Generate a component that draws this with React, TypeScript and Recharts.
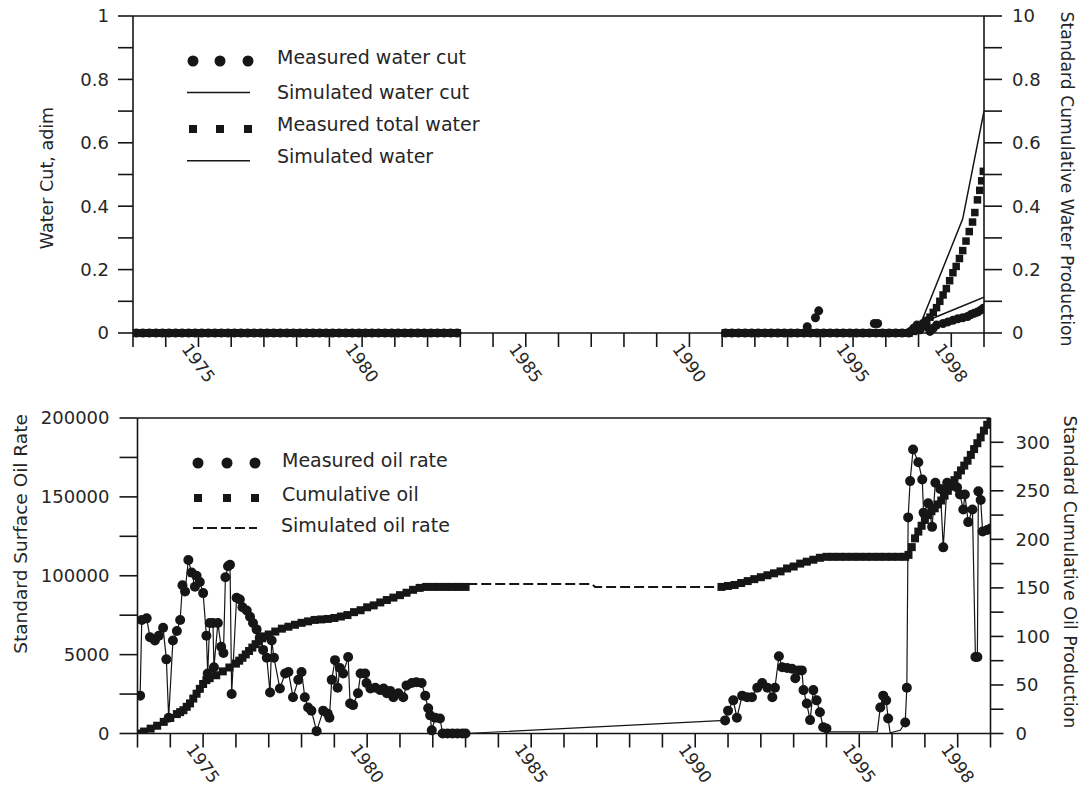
import { ComposedChart, Line, XAxis, YAxis, ReferenceLine } from 'recharts'

// x axis: years
const yearTicks = [1973, 1974, 1975, 1976, 1977, 1978, 1979, 1980, 1981, 1982, 1983, 1984, 1985, 1986, 1987, 1988, 1989, 1990, 1991, 1992, 1993, 1994, 1995, 1996, 1997, 1998, 1999]
const yearLabels = [1975, 1980, 1985, 1990, 1995, 1998]

// top panel axes
const wcTicks = [0, 0.1, 0.2, 0.3, 0.4, 0.5, 0.6, 0.7, 0.8, 0.9, 1]
const wcTickLabels = ['0', '', '0.2', '', '0.4', '', '0.6', '', '0.8', '', '1']
const cumWaterTickLabels = ['0', '', '0.2', '', '0.4', '', '0.6', '', '0.8', '', '10']

// bottom panel axes
const oilTicks = [0, 25000, 50000, 75000, 100000, 125000, 150000, 175000, 200000]
const oilTickLabels = ['0', '', '5000', '', '100000', '', '150000', '', '200000']
const cumOilTicks = [0, 25, 50, 75, 100, 125, 150, 175, 200, 225, 250, 275, 300]
const cumOilTickLabels = ['0', '', '50', '', '100', '', '150', '', '200', '', '250', '', '300']

// top panel: sample dates where both measured water series read 0
const waterZeroYears = [
  1973.1, 1973.3, 1973.5, 1973.7, 1973.9, 1974.1, 1974.3, 1974.5, 1974.7, 1974.9,
  1975.1, 1975.3, 1975.5, 1975.7, 1975.9, 1976.1, 1976.3, 1976.5, 1976.7, 1976.9,
  1977.1, 1977.3, 1977.5, 1977.7, 1977.9, 1978.1, 1978.3, 1978.5, 1978.7, 1978.9,
  1979.1, 1979.3, 1979.5, 1979.7, 1979.9, 1980.1, 1980.3, 1980.5, 1980.7, 1980.9,
  1981.1, 1981.3, 1981.5, 1981.7, 1981.9, 1982.1, 1982.3, 1982.5, 1982.7, 1982.9,
  1991.1, 1991.3, 1991.5, 1991.7, 1991.9, 1992.1, 1992.3, 1992.5, 1992.7, 1992.9,
  1993.1, 1993.3, 1993.5, 1993.7, 1993.9, 1994.1, 1994.3, 1994.5, 1994.7, 1994.9,
  1995.1, 1995.3, 1995.5, 1995.7, 1995.9, 1996.1, 1996.3, 1996.5, 1996.7,
]
// top panel non-zero readings [year, value]
const measuredWaterCutRise: [number, number][] = [
  [1993.6, 0.02], [1993.85, 0.048], [1993.95, 0.07],
  [1995.65, 0.03], [1995.75, 0.03],
  [1996.75, 0.005], [1996.85, 0.015], [1996.95, 0.025], [1997.05, 0.01], [1997.15, 0.03],
  [1997.25, 0.02], [1997.35, 0.005], [1997.45, 0.015], [1997.55, 0.025],
  [1997.75, 0.03], [1997.9, 0.035], [1998.05, 0.04], [1998.2, 0.045], [1998.35, 0.048],
  [1998.5, 0.052], [1998.6, 0.058], [1998.7, 0.062], [1998.8, 0.066], [1998.9, 0.072], [1998.98, 0.078],
]
const simulatedWaterCut: [number, number][] = [[1996.95, 0], [1997.4, 0.045], [1999.0, 0.113]]
const measuredTotalWaterRise: [number, number][] = [
  [1996.85, 0.005], [1996.95, 0.01], [1997.05, 0.02], [1997.15, 0.03], [1997.25, 0.04],
  [1997.35, 0.05], [1997.45, 0.065], [1997.55, 0.08], [1997.65, 0.1], [1997.75, 0.12],
  [1997.85, 0.14], [1997.95, 0.165], [1998.05, 0.19], [1998.15, 0.21], [1998.25, 0.235],
  [1998.35, 0.26], [1998.45, 0.29], [1998.55, 0.32], [1998.65, 0.35], [1998.72, 0.38],
  [1998.8, 0.42], [1998.87, 0.45], [1998.93, 0.48], [1998.98, 0.51],
]
const simulatedWater: [number, number][] = [[1996.95, 0], [1998.35, 0.36], [1999.0, 0.7]]

// bottom panel series
const measuredOilRate: [number, number][] = [
  [1973.08, 24000], [1973.13, 72000], [1973.28, 73000], [1973.38, 61000], [1973.53, 59000],
  [1973.65, 62000], [1973.78, 67000], [1973.88, 47000], [1973.95, 10000], [1974.08, 59000],
  [1974.2, 65000], [1974.3, 72000], [1974.37, 94000], [1974.45, 90000], [1974.55, 110000],
  [1974.65, 102000], [1974.75, 93000], [1974.8, 100000], [1974.9, 96000], [1975.0, 89000],
  [1975.1, 62000], [1975.14, 38000], [1975.2, 70000], [1975.3, 70000], [1975.33, 42000],
  [1975.45, 70000], [1975.55, 55000], [1975.62, 51000], [1975.68, 99000], [1975.76, 106000],
  [1975.82, 107000], [1975.87, 25000], [1976.02, 86000], [1976.12, 85000], [1976.2, 80000],
  [1976.33, 78000], [1976.43, 74000], [1976.52, 70000], [1976.63, 66000], [1976.73, 61000],
  [1976.83, 53000], [1976.94, 48000], [1977.04, 26000], [1977.09, 59000], [1977.16, 48000],
  [1977.34, 28500], [1977.5, 38000], [1977.6, 39000], [1977.74, 23000], [1977.9, 34000],
  [1978.0, 39000], [1978.1, 23000], [1978.2, 16500], [1978.3, 14500], [1978.46, 1500],
  [1978.66, 14500], [1978.8, 12500], [1978.85, 10000], [1978.92, 34000], [1979.02, 46500],
  [1979.1, 29000], [1979.17, 41500], [1979.27, 38000], [1979.42, 48500], [1979.48, 19000],
  [1979.57, 18000], [1979.72, 25500], [1979.8, 38000], [1979.94, 38000], [1979.98, 32000],
  [1980.1, 28500], [1980.25, 29000], [1980.4, 27500], [1980.5, 28500], [1980.6, 25500],
  [1980.7, 27000], [1980.8, 23000], [1980.95, 25500], [1981.1, 23000], [1981.2, 30500],
  [1981.36, 32000], [1981.5, 32500], [1981.66, 32000], [1981.77, 24000], [1981.86, 16000],
  [1981.92, 11500], [1981.97, 2000], [1982.07, 10000], [1982.22, 9500], [1982.3, 0],
  [1982.45, 0], [1982.6, 0], [1982.75, 0], [1982.9, 0], [1983.0, 0],
  [1990.91, 8300], [1991.0, 14500], [1991.16, 21000], [1991.27, 10000], [1991.43, 24000],
  [1991.58, 23000], [1991.73, 23000], [1991.89, 29000], [1992.04, 32000], [1992.2, 29000],
  [1992.35, 23000], [1992.43, 29000], [1992.55, 49000], [1992.65, 42000], [1992.8, 41500],
  [1992.95, 41000], [1993.05, 35000], [1993.15, 40000], [1993.25, 40000], [1993.3, 27500],
  [1993.4, 19000], [1993.5, 8500], [1993.6, 27500], [1993.7, 21000], [1993.8, 13500],
  [1993.9, 4000], [1994.0, 3200],
  [1995.64, 16500], [1995.73, 24000], [1995.82, 21000], [1995.88, 9500],
  [1996.4, 7000], [1996.45, 29000], [1996.49, 137000], [1996.55, 160000], [1996.64, 180000],
  [1996.8, 172000], [1996.92, 161000], [1996.96, 140000], [1997.1, 146000], [1997.22, 131000],
  [1997.32, 159000], [1997.47, 155000], [1997.56, 118000], [1997.68, 159000], [1997.83, 157000],
  [1997.98, 156000], [1998.07, 151500], [1998.17, 142000], [1998.22, 151500], [1998.32, 134000],
  [1998.45, 142000], [1998.54, 48500], [1998.6, 48500], [1998.63, 153500], [1998.7, 148000],
  [1998.76, 128000], [1998.9, 129000], [1999.0, 130000],
]
// vertices of the rate curve that carry no marker
const oilRateUnmarked: [number, number][] = [[1994.05, 1000], [1995.55, 1000], [1995.94, 500], [1996.25, 2000]]

const cumulativeOil: [number, number][] = [
  [1973.0, 0], [1973.2, 2], [1973.4, 5], [1973.6, 8], [1973.8, 12], [1974.0, 16], [1974.2, 20],
  [1974.3, 22], [1974.4, 24], [1974.5, 27.5], [1974.6, 31], [1974.7, 36], [1974.8, 41], [1974.9, 46],
  [1975.0, 51], [1975.1, 55], [1975.2, 57], [1975.4, 60], [1975.6, 64],
  [1975.8, 68], [1976.0, 72], [1976.1, 75], [1976.2, 78], [1976.3, 81.5], [1976.4, 85], [1976.5, 88.5],
  [1976.6, 92], [1976.7, 95], [1976.8, 98], [1976.9, 100], [1977.0, 102],
  [1977.2, 105], [1977.4, 108], [1977.6, 110], [1977.8, 112], [1978.0, 114], [1978.2, 115.5],
  [1978.4, 117], [1978.6, 117.5], [1978.8, 118], [1979.0, 119], [1979.2, 120.5], [1979.4, 122],
  [1979.6, 125], [1979.8, 127], [1980.0, 130], [1980.2, 132], [1980.4, 135], [1980.6, 137.5],
  [1980.8, 140], [1981.0, 142.5], [1981.2, 145], [1981.4, 148], [1981.6, 150], [1981.8, 151],
  [1982.0, 151], [1982.2, 151], [1982.4, 151], [1982.6, 151], [1982.8, 151], [1983.0, 151],
  [1990.8, 151], [1991.0, 152], [1991.2, 153], [1991.4, 155], [1991.6, 157], [1991.8, 159],
  [1992.0, 161], [1992.2, 163], [1992.4, 165], [1992.6, 167], [1992.8, 170], [1993.0, 172],
  [1993.2, 175], [1993.4, 177], [1993.6, 179], [1993.8, 181], [1994.0, 182], [1994.2, 182],
  [1994.4, 182], [1994.6, 182], [1994.8, 182], [1995.0, 182], [1995.2, 182], [1995.4, 182],
  [1995.6, 182], [1995.8, 182], [1996.0, 182], [1996.2, 182], [1996.4, 182],
  [1996.5, 184], [1996.6, 192], [1996.7, 201], [1996.8, 208], [1996.9, 214], [1997.0, 220],
  [1997.1, 225], [1997.2, 229], [1997.3, 232], [1997.4, 236], [1997.5, 240], [1997.6, 245],
  [1997.7, 250], [1997.8, 256], [1997.9, 261], [1998.0, 266], [1998.1, 271], [1998.2, 276],
  [1998.3, 281], [1998.4, 287], [1998.5, 293], [1998.6, 299], [1998.7, 305], [1998.8, 312],
  [1998.9, 318], [1999.0, 323],
]
const simulatedOilRate: [number, number][] = [[1983.05, 154], [1986.85, 154], [1986.95, 151], [1990.85, 151]]

const FONT = 'DejaVu Sans'
const INK = '#161616'
const TEXT = '#262626'

const rows = (pts: [number, number][]) => pts.map(([t, v]) => ({ t, v }))
const zeroRows = waterZeroYears.map((t) => ({ t, v: 0 }))

const circleDot = (r: number) => (p: any) => (
  <circle key={`c${p.index}`} cx={p.cx} cy={p.cy} r={r} fill={INK} />
)
const squareDot = (s: number) => (p: any) => (
  <rect key={`s${p.index}`} x={p.cx - s / 2} y={p.cy - s / 2} width={s} height={s} fill={INK} />
)

function YearTick(props: any) {
  const { x, y, payload } = props
  if (!yearLabels.includes(payload.value)) return <g />
  return (
    <text
      x={0}
      y={0}
      transform={`translate(${x},${y + 14}) rotate(54)`}
      textAnchor="middle"
      dominantBaseline="central"
      fontSize={17}
      fontFamily={FONT}
      fill={TEXT}
    >
      {payload.value}
    </text>
  )
}

const axisStyle = { stroke: INK, strokeWidth: 1.6 }
const tickFont = { fill: TEXT, fontSize: 18, fontFamily: FONT }

function xAxis() {
  return (
    <XAxis
      type="number"
      dataKey="t"
      domain={[1973, 1999]}
      allowDataOverflow
      ticks={yearTicks}
      interval={0}
      height={45}
      tickSize={14}
      axisLine={axisStyle}
      tickLine={axisStyle}
      tick={<YearTick />}
    />
  )
}

function TopChart() {
  return (
    <ComposedChart width={1086} height={395} margin={{ top: 16, right: 42, bottom: 17, left: 73 }}>
      {xAxis()}
      <YAxis
        yAxisId="left"
        type="number"
        domain={[0, 1]}
        ticks={wcTicks}
        interval={0}
        width={60}
        tickSize={15}
        tickMargin={9}
        axisLine={axisStyle}
        tickLine={axisStyle}
        tick={tickFont}
        tickFormatter={(_v: number, i: number) => wcTickLabels[i]}
      />
      <YAxis
        yAxisId="right"
        orientation="right"
        type="number"
        domain={[0, 1]}
        ticks={wcTicks}
        interval={0}
        width={60}
        tickSize={18}
        tickMargin={10}
        axisLine={axisStyle}
        tickLine={axisStyle}
        tick={tickFont}
        tickFormatter={(_v: number, i: number) => cumWaterTickLabels[i]}
      />
      <ReferenceLine yAxisId="left" y={1} stroke={INK} strokeWidth={1.6} />
      <Line yAxisId="left" data={[...zeroRows, ...rows(measuredWaterCutRise)]} dataKey="v" stroke="none" dot={circleDot(4.5)} activeDot={false} isAnimationActive={false} />
      <Line yAxisId="right" data={zeroRows} dataKey="v" stroke="none" dot={squareDot(8)} activeDot={false} isAnimationActive={false} />
      <Line yAxisId="left" data={rows(simulatedWaterCut)} dataKey="v" stroke={INK} strokeWidth={1.5} dot={false} activeDot={false} isAnimationActive={false} />
      <Line yAxisId="right" data={rows(measuredTotalWaterRise)} dataKey="v" stroke="none" dot={squareDot(7.5)} activeDot={false} isAnimationActive={false} />
      <Line yAxisId="right" data={rows(simulatedWater)} dataKey="v" stroke={INK} strokeWidth={1.5} dot={false} activeDot={false} isAnimationActive={false} />
    </ComposedChart>
  )
}

function BottomChart() {
  const rateLine = [...measuredOilRate, ...oilRateUnmarked].sort((a, b) => a[0] - b[0])
  return (
    <ComposedChart width={1086} height={393} margin={{ top: 23, right: 35.5, bottom: 9.5, left: 77.5 }}>
      {xAxis()}
      <YAxis
        yAxisId="left"
        type="number"
        domain={[0, 200000]}
        ticks={oilTicks}
        interval={0}
        width={60}
        tickSize={18}
        tickMargin={10}
        axisLine={axisStyle}
        tickLine={axisStyle}
        tick={tickFont}
        tickFormatter={(_v: number, i: number) => oilTickLabels[i]}
      />
      <YAxis
        yAxisId="right"
        orientation="right"
        type="number"
        domain={[0, 325]}
        allowDataOverflow
        ticks={cumOilTicks}
        interval={0}
        width={60}
        tickSize={13}
        tickMargin={12}
        axisLine={axisStyle}
        tickLine={axisStyle}
        tick={tickFont}
        tickFormatter={(_v: number, i: number) => cumOilTickLabels[i]}
      />
      <ReferenceLine yAxisId="left" y={200000} stroke={INK} strokeWidth={1.6} />
      <Line yAxisId="right" data={rows(simulatedOilRate)} dataKey="v" stroke={INK} strokeWidth={2} strokeDasharray="10 4" dot={false} activeDot={false} isAnimationActive={false} />
      <Line yAxisId="right" data={rows(cumulativeOil)} dataKey="v" stroke="none" dot={squareDot(8)} activeDot={false} isAnimationActive={false} />
      <Line yAxisId="left" data={rows(rateLine)} dataKey="v" stroke={INK} strokeWidth={1.2} dot={false} activeDot={false} isAnimationActive={false} />
      <Line yAxisId="left" data={rows(measuredOilRate)} dataKey="v" stroke="none" dot={circleDot(5)} activeDot={false} isAnimationActive={false} />
    </ComposedChart>
  )
}

function Overlay() {
  const t = { fontFamily: FONT, fill: TEXT }
  return (
    <svg width={1086} height={788} style={{ position: 'absolute', left: 0, top: 0, pointerEvents: 'none' }}>
      {/* axis titles */}
      <text {...t} fontSize={17.5} textAnchor="middle" dominantBaseline="central" transform="translate(47,178) rotate(-90)">Water Cut, adim</text>
      <text {...t} fontSize={17.2} textAnchor="middle" dominantBaseline="central" transform="translate(1067,179) rotate(90)">Standard Cumulative Water Production</text>
      <text {...t} fontSize={18.5} textAnchor="middle" dominantBaseline="central" transform="translate(20,534) rotate(-90)">Standard Surface Oil Rate</text>
      <text {...t} fontSize={17.5} textAnchor="middle" dominantBaseline="central" transform="translate(1070,572) rotate(90)">Standard Cumulative Oil Production</text>

      {/* top legend */}
      {[193, 220, 248].map((x) => <circle key={`a${x}`} cx={x} cy={61} r={5.5} fill={INK} />)}
      <text {...t} fontSize={19} x={277} y={63.5}>Measured water cut</text>
      <line x1={187} x2={250} y1={92.5} y2={92.5} stroke={INK} strokeWidth={1.5} />
      <text {...t} fontSize={19} x={277} y={99}>Simulated water cut</text>
      {[193, 220, 248].map((x) => <rect key={`b${x}`} x={x - 4} y={125} width={8} height={8} fill={INK} />)}
      <text {...t} fontSize={19} x={277} y={131}>Measured  total water</text>
      <line x1={187} x2={250} y1={160.7} y2={160.7} stroke={INK} strokeWidth={1.5} />
      <text {...t} fontSize={19} x={277} y={163}>Simulated water</text>

      {/* bottom legend */}
      {[198, 227, 255].map((x) => <circle key={`c${x}`} cx={x} cy={463} r={5.5} fill={INK} />)}
      <text {...t} fontSize={19} x={282} y={467}>Measured oil rate</text>
      {[198, 227, 255].map((x) => <rect key={`d${x}`} x={x - 4} y={494} width={8} height={8} fill={INK} />)}
      <text {...t} fontSize={19} x={282} y={501}>Cumulative oil</text>
      <line x1={193} x2={257} y1={528} y2={528} stroke={INK} strokeWidth={2} strokeDasharray="10 4" />
      <text {...t} fontSize={19} x={281} y={532}>Simulated oil  rate</text>
    </svg>
  )
}

export default function App() {
  return (
    <div style={{ position: 'absolute', left: 0, top: 0, width: 1086, height: 788, background: '#fff', fontFamily: FONT }}>
      <div style={{ position: 'absolute', left: 0, top: 0 }}>
        <TopChart />
      </div>
      <div style={{ position: 'absolute', left: 0, top: 395 }}>
        <BottomChart />
      </div>
      <Overlay />
    </div>
  )
}
